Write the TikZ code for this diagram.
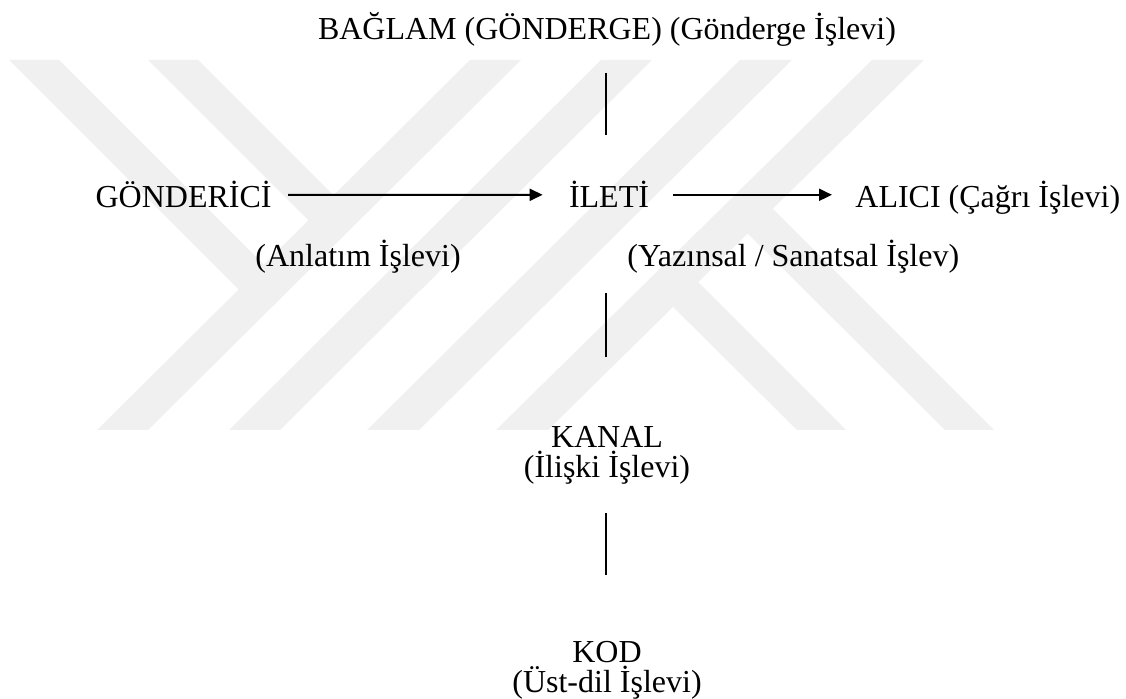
\documentclass[tikz,border=0pt]{standalone}
\usepackage{fontspec}
\setmainfont{Liberation Serif}
\usepackage{tikz}
\usetikzlibrary{arrows.meta, positioning}
\usepackage{xcolor}
\definecolor{wmgray}{RGB}{240,240,240}

\begin{document}
\begin{tikzpicture}[x=0.5pt, y=-0.5pt, >={Triangle[length=6.5pt, width=6pt]},
  every node/.style={font=\fontsize{16}{15}\selectfont, inner sep=0pt},
  wmband/.style={fill=wmgray, draw=none},
  flow/.style={->, line width=1pt},
  stem/.style={line width=0.7pt}
]
  \useasboundingbox (0,0) rectangle (1126,699);

  % Background watermark bands
  \fill[wmband] (9,60) -- (59,60) -- (278,279) -- (253,304) -- cycle;
  \fill[wmband] (148,60) -- (198,60) -- (348,210) -- (323,235) -- cycle;
  \fill[wmband] (470,60) -- (521,60) -- (148,430) -- (97,430) -- cycle;
  \fill[wmband] (601,60) -- (652,60) -- (280,430) -- (229,430) -- cycle;
  \fill[wmband] (740,60) -- (792,60) -- (419,430) -- (367,430) -- cycle;
  \fill[wmband] (872,60) -- (924,60) -- (548,430) -- (496,430) -- cycle;
  \fill[wmband] (797,430) -- (846,430) -- (685,269) -- (660,294) -- cycle;
  \fill[wmband] (945,430) -- (994,430) -- (759,195) -- (734,220) -- cycle;

  % Main row
  \node[anchor=base east] (gonderici) at (272,208) {GÖNDERİCİ};
  \node[anchor=base] (ileti) at (609,208) {İLETİ};
  \node[anchor=base west] (alici) at (855,208) {ALICI (Çağrı İşlevi)};

  % Texts under the row
  \node[anchor=base west] (anlatim) at (255,267) {(Anlatım İşlevi)};
  \node[anchor=base west] (yazinsal) at (627,267) {(Yazınsal / Sanatsal İşlev)};

  % Column through the middle
  \node[anchor=base] (baglam) at (607,40) {BAĞLAM (GÖNDERGE) (Gönderge İşlevi)};
  \node[align=center] (kanal) at (607,455) {KANAL\\(İlişki İşlevi)};
  \node[align=center] (kod) at (607,670) {KOD\\(Üst-dil İşlevi)};

  \coordinate (b1) at (606,73);
  \coordinate (b2) at (606,135);
  \coordinate (k1) at (606,293);
  \coordinate (k2) at (606,357);
  \coordinate (d1) at (606,513);
  \coordinate (d2) at (606,575);

  % Horizontal arrows
  \draw[flow, shorten <=8pt, shorten >=13pt] (gonderici.east) -- (ileti.west);
  \draw[flow, shorten <=12pt, shorten >=11.5pt] (ileti.east) -- (ileti.east -| alici.west);

  % Vertical strokes
  \draw[stem] (b1) -- (b2);
  \draw[stem] (k1) -- (k2);
  \draw[stem] (d1) -- (d2);
\end{tikzpicture}
\end{document}
